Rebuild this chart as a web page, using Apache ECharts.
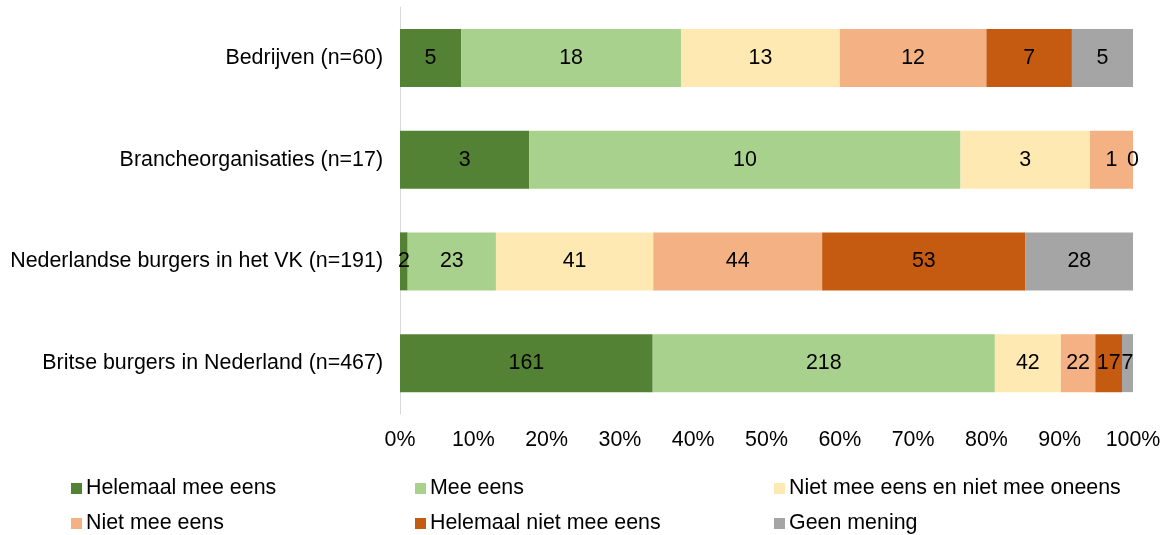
<!DOCTYPE html>
<html><head><meta charset="utf-8">
<script src="https://cdn.jsdelivr.net/npm/echarts@6/dist/echarts.min.js"></script>
<style>html,body{margin:0;padding:0;background:#fff}#c{width:1166px;height:535px}</style>
</head><body><div id="c"></div>
<script>
const categories = ["Bedrijven (n=60)", "Brancheorganisaties (n=17)", "Nederlandse burgers in het VK (n=191)", "Britse burgers in Nederland (n=467)"];
const seriesNames = ["Helemaal mee eens", "Mee eens", "Niet mee eens en niet mee oneens", "Niet mee eens", "Helemaal niet mee eens", "Geen mening"];
const helemaalMeeEens = [5, 3, 2, 161];
const meeEens = [18, 10, 23, 218];
const neutraal = [13, 3, 41, 42];
const nietMeeEens = [12, 1, 44, 22];
const helemaalNietMeeEens = [7, 0, 53, 17];
const geenMening = [5, null, 28, 7];
const xTicks = ["0%","10%","20%","30%","40%","50%","60%","70%","80%","90%","100%"];

const colors = ["#548235", "#A9D18E", "#FFE9B3", "#F4B183", "#C55A11", "#A5A5A5"];
const counts = [helemaalMeeEens, meeEens, neutraal, nietMeeEens, helemaalNietMeeEens, geenMening];
const totals = categories.map((_, i) => counts.reduce((s, arr) => s + (arr[i] || 0), 0));

const font = "Liberation Sans, Arial, sans-serif";
const FS = 21.4;
const series = counts.map((arr, k) => ({
  name: seriesNames[k],
  type: 'bar',
  stack: 'all',
  barWidth: 58,
  itemStyle: { color: colors[k] },
  label: {
    show: true, position: 'inside', color: '#000', fontSize: FS, fontFamily: font,
    formatter: p => { const v = arr[p.dataIndex]; return v === null ? '' : String(v); }
  },
  labelLayout: { hideOverlap: false },
  data: arr.map((v, i) => v === null ? null : v / totals[i] * 100)
}));

const legendPos = [[66, 473], [410, 473], [769, 473], [66, 508], [410, 508], [769, 508]];
const legends = seriesNames.map((n, k) => ({
  data: [n], left: legendPos[k][0], top: legendPos[k][1], itemWidth: 11, itemHeight: 11, itemGap: 4,
  icon: 'rect', selectedMode: false,
  textStyle: { fontSize: FS, color: '#000', fontFamily: font, padding: [0, 0, 0, -1] }
}));

const chart = echarts.init(document.getElementById('c'));
chart.setOption({
  animation: false,
  textStyle: { fontFamily: font },
  grid: { left: 400, right: 33, top: 7, bottom: 121 },
  legend: legends,
  xAxis: {
    type: 'value', min: 0, max: 100, interval: 10,
    axisLine: { show: false }, axisTick: { show: false }, splitLine: { show: false },
    axisLabel: { fontSize: FS, color: '#000', fontFamily: font, margin: 16,
      formatter: v => xTicks[Math.round(v / 10)] }
  },
  yAxis: {
    type: 'category', data: categories, inverse: true,
    axisLine: { show: true, lineStyle: { color: '#D9D9D9', width: 1 } },
    axisTick: { show: false },
    axisLabel: { fontSize: FS, color: '#000', fontFamily: font, margin: 17 }
  },
  series: series
});
</script></body></html>
